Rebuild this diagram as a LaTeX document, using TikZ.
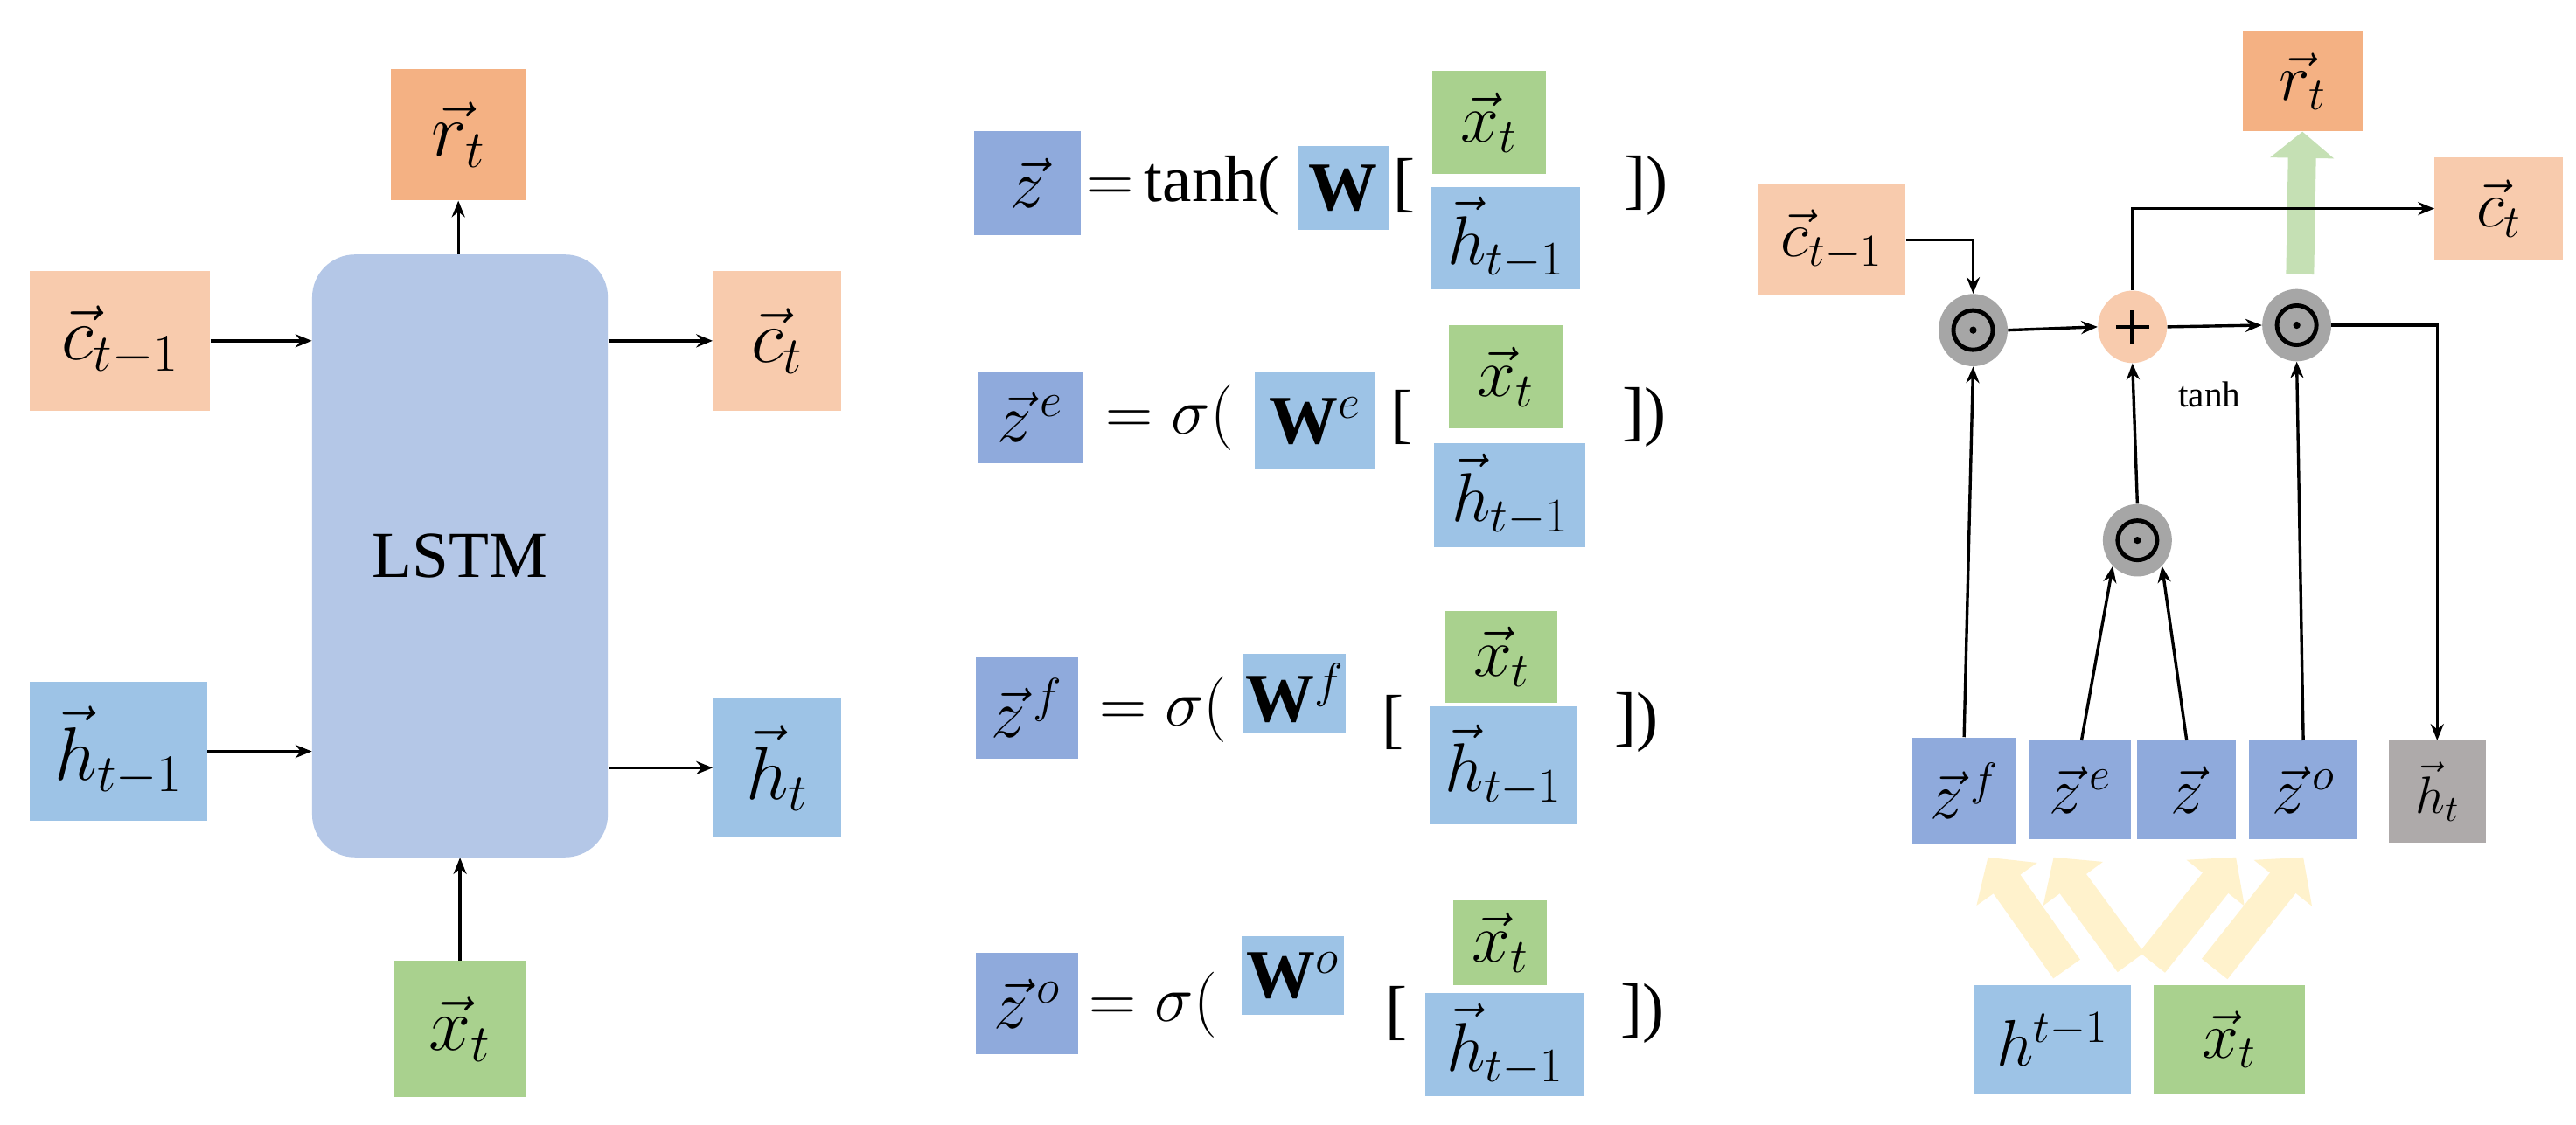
\RequirePackage{fix-cm}
\documentclass[tikz,border=0pt]{standalone}
\usepackage{fontspec}
\setmainfont{Liberation Serif}
\usetikzlibrary{arrows.meta,calc,shapes.geometric}
\definecolor{zb}{HTML}{8FAADC}
\definecolor{hb}{HTML}{9DC3E6}
\definecolor{gb}{HTML}{A9D18E}
\definecolor{ob}{HTML}{F8CBAD}
\definecolor{rb}{HTML}{F4B183}
\definecolor{grb}{HTML}{AEAAAA}
\definecolor{lb}{HTML}{B4C7E7}
\definecolor{yb}{HTML}{FFF2CC}
\definecolor{ga}{HTML}{C5E0B4}
\definecolor{cg}{HTML}{A6A6A6}
\begin{document}
\begin{tikzpicture}[x=1pt,y=-1pt,
  box/.style={draw=none,inner sep=0pt,font=\fontsize{46}{48}\selectfont},
  mb/.style={box,font=\fontsize{42}{44}\selectfont},
  rb2/.style={box,font=\fontsize{40}{42}\selectfont},
  txt/.style={inner sep=0pt,font=\fontsize{40}{42}\selectfont},
  arr/.style={-{Stealth[length=10pt,width=8pt]},line width=1.8pt},
  cir/.style={ellipse,fill=#1,minimum width=42pt,minimum height=44pt,inner sep=0pt},
  yarr/.style={yb,line width=20pt,-{Triangle[length=20pt,width=44pt]}}]
\path[use as bounding box,fill=white] (0,0) rectangle (1568,685);
% ---------------- left
\node[box,fill=rb,minimum width=82pt,minimum height=80pt] (rt) at (279,82) {$\vec{r}_t$};
\node[box,fill=lb,rounded corners=26pt,minimum width=180pt,minimum height=367pt,font=\fontsize{40}{44}\selectfont] (L) at (280,338.5) {LSTM};
\node[box,fill=ob,minimum width=110pt,minimum height=85pt] (cm1) at (73,207.5) {$\vec{c}_{t-1}$};
\node[box,fill=ob,minimum width=78pt,minimum height=85pt] (ct) at (473,207.5) {$\vec{c}_t$};
\node[box,fill=hb,minimum width=108pt,minimum height=85pt] (hm1) at (72,457.5) {$\vec{h}_{t-1}$};
\node[box,fill=hb,minimum width=78pt,minimum height=85pt] (ht) at (473,467.5) {$\vec{h}_t$};
\node[box,fill=gb,minimum width=80pt,minimum height=83pt] (xt) at (280,626.5) {$\vec{x}_t$};
\draw[arr] (cm1.east) -- (cm1.east -| L.west);
\draw[arr] (L.east |- ct.west) -- (ct.west);
\draw[arr] (hm1.east) -- (hm1.east -| L.west);
\draw[arr] (L.east |- ht.west) -- (ht.west);
\draw[arr] (xt.north) -- (xt.north |- L.south);
\draw[arr] (L.north -| rt.south) -- (rt.south);
% ---------------- middle row1
\node[mb,fill=zb,minimum width=65pt,minimum height=63pt] (z1) at (625.5,111.5) {$\vec{z}$};
\node[txt] (e1) at (720,113) {$=$\,tanh(};
\node[mb,fill=hb,minimum width=55pt,minimum height=51pt] (W1) at (817.5,114.5) {$\mathbf{W}$};
\node[txt] (b1) at (855,113) {[};
\node[mb,fill=gb,minimum width=69pt,minimum height=63pt] (x1) at (906.5,74.5) {$\vec{x}_t$};
\node[mb,fill=hb,minimum width=91pt,minimum height=62pt] (h1) at (916.5,145) {$\vec{h}_{t-1}$};
\node[txt] (c1) at (1002,113) {])};
% row2
\node[mb,fill=zb,minimum width=64pt,minimum height=56pt] (z2) at (627,254) {$\vec{z}^{\,e}$};
\node[txt] (e2) at (712,254) {$=\sigma($};
\node[mb,fill=hb,minimum width=73pt,minimum height=59pt] (W2) at (800.5,256.5) {$\mathbf{W}^{e}$};
\node[txt] (b2) at (853,254) {[};
\node[mb,fill=gb,minimum width=69pt,minimum height=63pt] (x2) at (916.5,229.5) {$\vec{x}_t$};
\node[mb,fill=hb,minimum width=92pt,minimum height=63pt] (h2) at (919,301.5) {$\vec{h}_{t-1}$};
\node[txt] (c2) at (1001,254) {])};
% row3
\node[mb,fill=zb,minimum width=62pt,minimum height=62pt] (z3) at (625,431) {$\vec{z}^{\,f}$};
\node[txt] (e3) at (708,432) {$=\sigma($};
\node[mb,fill=hb,minimum width=62pt,minimum height=48pt] (W3) at (788,422) {$\mathbf{W}^{f}$};
\node[txt] (b3) at (848,440) {[};
\node[mb,fill=gb,minimum width=68pt,minimum height=56pt] (x3) at (914,400) {$\vec{x}_t$};
\node[mb,fill=hb,minimum width=90pt,minimum height=72pt] (h3) at (915,466) {$\vec{h}_{t-1}$};
\node[txt] (c3) at (996,440) {])};
% row4
\node[mb,fill=zb,minimum width=62pt,minimum height=62pt] (z4) at (625,611) {$\vec{z}^{\,o}$};
\node[txt] (e4) at (702,612) {$=\sigma($};
\node[mb,fill=hb,minimum width=62pt,minimum height=48pt] (W4) at (787,594) {$\mathbf{W}^{o}$};
\node[txt] (b4) at (850,617) {[};
\node[mb,fill=gb,minimum width=57pt,minimum height=52pt] (x4) at (913,574) {$\vec{x}_t$};
\node[mb,fill=hb,minimum width=97pt,minimum height=63pt] (h4) at (916,636) {$\vec{h}_{t-1}$};
\node[txt] (c4) at (1000,617) {])};
% ---------------- right
\node[rb2,fill=rb,minimum width=73pt,minimum height=61pt] (rr) at (1401.5,49.5) {$\vec{r}_t$};
\node[rb2,fill=ob,minimum width=78pt,minimum height=62pt] (rct) at (1521,127) {$\vec{c}_t$};
\node[rb2,fill=ob,minimum width=90pt,minimum height=68pt] (rcm) at (1115,146) {$\vec{c}_{t-1}$};
\node[rb2,fill=zb,minimum width=63pt,minimum height=65pt] (zf) at (1195.5,481.5) {$\vec{z}^{\,f}$};
\node[rb2,fill=zb,minimum width=62pt,minimum height=60pt] (ze) at (1266,481) {$\vec{z}^{\,e}$};
\node[rb2,fill=zb,minimum width=60pt,minimum height=60pt] (zz) at (1331,481) {$\vec{z}$};
\node[rb2,fill=zb,minimum width=66pt,minimum height=60pt] (zo) at (1402,481) {$\vec{z}^{\,o}$};
\node[rb2,fill=grb,minimum width=59pt,minimum height=62pt,font=\fontsize{32}{34}\selectfont] (rht) at (1483.5,482) {$\vec{h}_t$};
\node[rb2,fill=hb,minimum width=96pt,minimum height=66pt] (hp) at (1249,633) {$h^{t-1}$};
\node[rb2,fill=gb,minimum width=92pt,minimum height=66pt] (rx) at (1357,633) {$\vec{x}_t$};
\node[cir=cg] (o1) at (1201,201) {};
\node[cir=ob] (pl) at (1298,199) {};
\node[cir=cg] (o2) at (1398,198) {};
\node[cir=cg] (o3) at (1301,329) {};
\foreach \n in {o1,o2,o3}{
  \draw[line width=2.6pt] (\n) circle (12pt);
  \fill (\n) circle (2.2pt);}
\draw[line width=2.4pt] ($(pl)+(-10,0)$) -- ($(pl)+(10,0)$) ($(pl)+(0,-10)$) -- ($(pl)+(0,10)$);
\node[inner sep=0pt,font=\fontsize{22}{24}\selectfont] (th) at (1345,240) {tanh};
% yellow arrows
\coordinate (ya1) at (1258,590); \coordinate (yb1) at (1210,522);
\coordinate (ya2) at (1297,586); \coordinate (yb2) at (1250,522);
\coordinate (ya3) at (1310,586); \coordinate (yb3) at (1361,522);
\coordinate (ya4) at (1348,590); \coordinate (yb4) at (1402,522);
\foreach \i in {1,2,3,4}{\draw[yarr] (ya\i) -- (yb\i);}
% green arrow
\coordinate (ga0) at (1400,167);
\draw[ga,line width=17pt,-{Triangle[length=16pt,width=38pt]}] (ga0) -- (rr.south);
% connectors
\draw[arr] (rcm.east) -| (o1.north);
\draw[arr] (o1.east) -- (pl.west);
\draw[arr] (pl.east) -- (o2.west);
\draw[arr] (o2.east) -| (rht.north);
\draw[arr] (pl.north) |- (rct.west);
\draw[arr] (zf.north) -- (o1.south);
\draw[arr] ([xshift=1pt]ze.north) -- (o3.south west);
\draw[arr] (zz.north) -- (o3.south east);
\draw[arr] (o3.north) -- (pl.south);
\draw[arr] (zo.north) -- (o2.south);
\end{tikzpicture}
\end{document}
